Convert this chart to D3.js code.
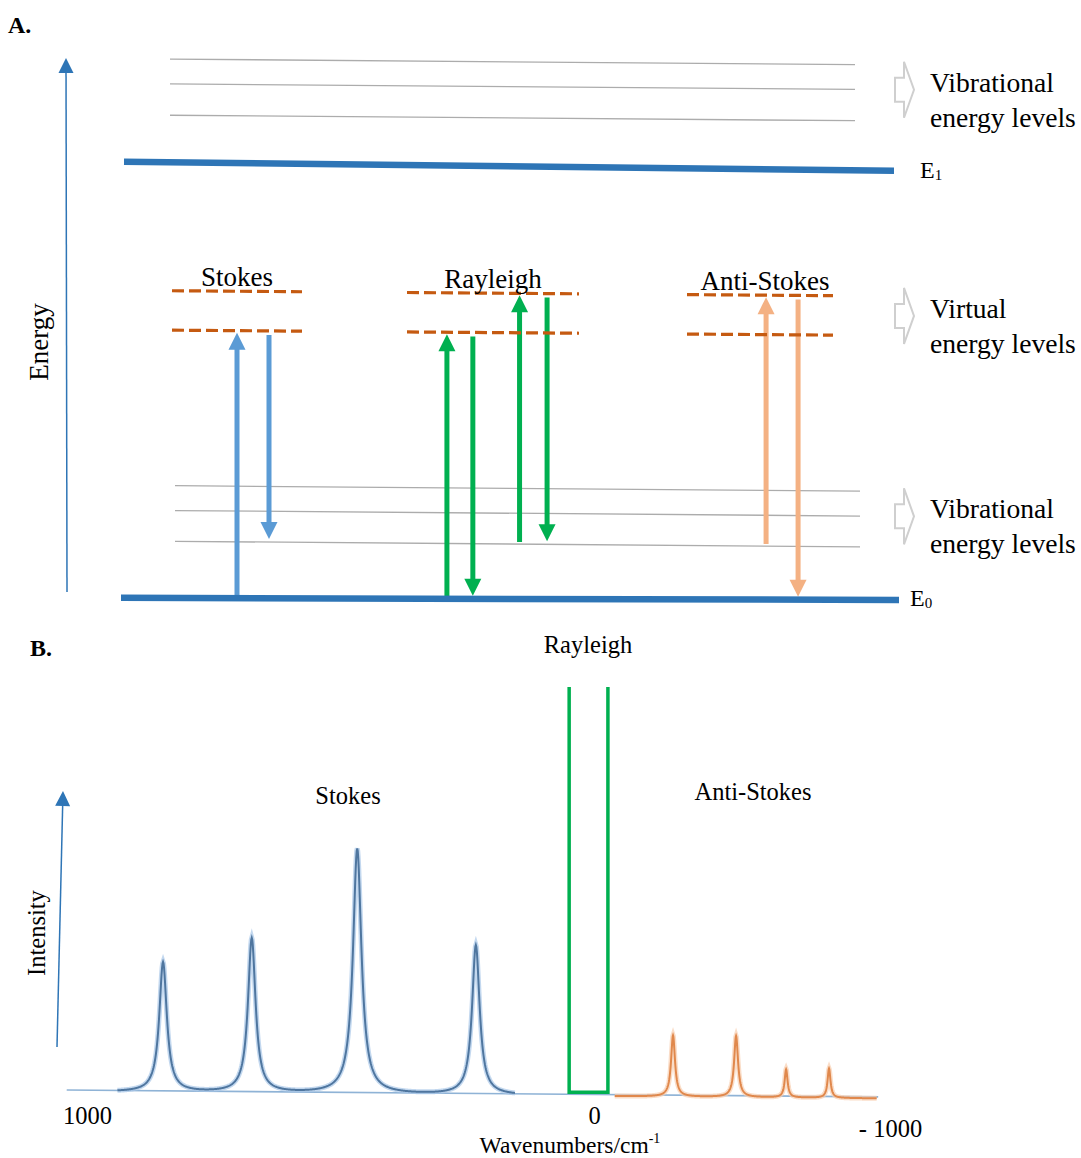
<!DOCTYPE html>
<html>
<head>
<meta charset="utf-8">
<script src="https://cdn.jsdelivr.net/npm/d3@7"></script>
<style>
  body { margin: 0; background: #fff; }
  svg { display: block; font-family: "Liberation Serif", "Times New Roman", serif; }
</style>
</head>
<body>
<svg id="chart" width="1081" height="1158"></svg>
<script>
// ---- panel A : energy level diagram ----
const levelNames  = ["E0", "v1", "v2", "v3", "virtual1", "virtual2", "E1", "u1", "u2", "u3"];
const levelEnergy = [0, 10.5, 16.2, 20.8, 49.6, 56.9, 80.7, 89.4, 95.2, 99.8];
const levelKind   = ["electronic", "vibrational", "vibrational", "vibrational", "virtual", "virtual",
                     "electronic", "vibrational", "vibrational", "vibrational"];

const groups = ["Stokes", "Rayleigh", "Anti-Stokes"];

// transitions (one arrow each)
const arrowGroup = ["Stokes", "Stokes", "Rayleigh", "Rayleigh", "Rayleigh", "Rayleigh", "Anti-Stokes", "Anti-Stokes"];
const arrowLane  = [0, 1, -1.44, -0.63, 0.83, 1.69, 0.19, 1.19];
const arrowFrom  = ["E0", "virtual1", "E0", "virtual1", "v1", "virtual2", "v1", "virtual2"];
const arrowTo    = ["virtual1", "v1", "virtual1", "E0", "virtual2", "v1", "virtual2", "E0"];

const sideLabels = [["Vibrational", "energy levels"], ["Virtual", "energy levels"], ["Vibrational", "energy levels"]];
const sideAnchor = [["u2"], ["virtual1", "virtual2"], ["v2"]];

// ---- panel B : spectrum ----
const stokesShift     = [850, 675, 467, 233];
const stokesIntensity = [0.53, 0.63, 1.0, 0.61];
const stokesWidth     = [9, 9, 10, 9];
const antiShift       = [-267, -480, -649, -794];
const antiIntensity   = [0.25, 0.25, 0.115, 0.12];
const antiWidth       = [8, 8, 6, 6];
const rayleighBand    = [49, -47];
const rayleighIntensity = 1.645;
const xTicks      = [1000, 0, -1000];
const xTickLabels = ["1000", "0", "- 1000"];

const svg = d3.select("#chart");

// arrow helper: straight shaft + triangular head
function arrow(g, x1, y1, x2, y2, color, shaft, headLen, headHalf) {
  const dx = x2 - x1, dy = y2 - y1, len = Math.hypot(dx, dy);
  const ux = dx / len, uy = dy / len;
  const bx = x2 - ux * headLen, by = y2 - uy * headLen;
  g.append("line")
    .attr("x1", x1).attr("y1", y1)
    .attr("x2", bx + ux).attr("y2", by + uy)
    .attr("stroke", color).attr("stroke-width", shaft);
  g.append("path")
    .attr("d", `M${x2},${y2}L${bx - uy * headHalf},${by + ux * headHalf}L${bx + uy * headHalf},${by - ux * headHalf}Z`)
    .attr("fill", color);
}

// ===================== A =====================
const yE = d3.scaleLinear().domain([0, 100]).range([598, 58]);
const groupX = d3.scaleOrdinal().domain(groups).range([237, 493, 760]);
const groupHalf = d3.scaleOrdinal().domain(groups).range([65, 86, 73]);
const laneX = d3.scaleLinear().domain([0, 1]).range([0, 32]);
const groupColor = d3.scaleOrdinal().domain(groups).range(["#5B9BD5", "#00B050", "#F4B183"]);

// levels are drawn slightly tilted, like the original sketch
const slope = { E0: 0.0026, E1: 0.0117, vibrational: 0.008, virtual: 0.0075 };
const span = { E0: [121, 899], E1: [124, 894], u: [170, 855], v: [175, 860] };

function levelIdx(name) { return levelNames.indexOf(name); }
function levelY(name, x) {
  const i = levelIdx(name);
  const key = levelKind[i] === "electronic" ? name : levelKind[i];
  return yE(levelEnergy[i]) + slope[key] * (x - 170);
}
function levelSpan(name) { return levelKind[levelIdx(name)] === "electronic" ? span[name] : span[name[0]]; }

svg.append("text").attr("x", 8).attr("y", 33)
  .attr("font-size", 24).attr("font-weight", "bold").text("A.");

// energy axis
const gAxisA = svg.append("g");
arrow(gAxisA, 67, yE(0) - 6, 66, yE(100), "#2E75B6", 1.5, 15, 7.5);
svg.append("text").attr("transform", "translate(48,342) rotate(-90)")
  .attr("text-anchor", "middle").attr("font-size", 27).text("Energy");

// vibrational levels
const vibLevels = levelNames.filter((n, i) => levelKind[i] === "vibrational");
svg.append("g").selectAll("line").data(vibLevels).join("line")
  .attr("x1", d => levelSpan(d)[0]).attr("y1", d => levelY(d, levelSpan(d)[0]))
  .attr("x2", d => levelSpan(d)[1]).attr("y2", d => levelY(d, levelSpan(d)[1]))
  .attr("stroke", "#acacac").attr("stroke-width", 1.3);

// transition arrows
const transitions = arrowGroup.map((g, i) => ({ group: g, lane: arrowLane[i], from: arrowFrom[i], to: arrowTo[i] }));
const gArrows = svg.append("g");
transitions.forEach(t => {
  const x = groupX(t.group) + laneX(t.lane);
  const up = levelEnergy[levelIdx(t.to)] > levelEnergy[levelIdx(t.from)];
  const y1 = up ? levelY(t.from, x) - 2 : levelY(t.from, x) + 4;
  const y2 = up ? levelY(t.to, x) + 2 : levelY(t.to, x) - 3;
  arrow(gArrows, x, y1, x, y2, groupColor(t.group), 5, 17, 8.5);
});

// virtual levels (dashed, one pair per scattering type)
const virtualLevels = levelNames.filter((n, i) => levelKind[i] === "virtual");
const virtualSegs = d3.cross(groups, virtualLevels, (g, v) => ({ group: g, level: v }));
svg.append("g").selectAll("line").data(virtualSegs).join("line")
  .attr("x1", d => groupX(d.group) - groupHalf(d.group))
  .attr("y1", d => levelY(d.level, groupX(d.group) - groupHalf(d.group)))
  .attr("x2", d => groupX(d.group) + groupHalf(d.group))
  .attr("y2", d => levelY(d.level, groupX(d.group) + groupHalf(d.group)))
  .attr("stroke", "#C55A11").attr("stroke-width", 3.2)
  .attr("stroke-dasharray", "12,5");

svg.append("g").selectAll("text").data(groups).join("text")
  .attr("x", d => groupX(d) + (d === "Anti-Stokes" ? 5 : 0))
  .attr("y", d => levelY("virtual2", groupX(d)) - 5)
  .attr("text-anchor", "middle").attr("font-size", 27)
  .text(d => d);

// electronic levels
const elecLevels = levelNames.filter((n, i) => levelKind[i] === "electronic");
svg.append("g").selectAll("line").data(elecLevels).join("line")
  .attr("x1", d => levelSpan(d)[0]).attr("y1", d => levelY(d, levelSpan(d)[0]))
  .attr("x2", d => levelSpan(d)[1]).attr("y2", d => levelY(d, levelSpan(d)[1]))
  .attr("stroke", "#2E75B6").attr("stroke-width", 6.5);

const eLab = svg.append("g").selectAll("text").data(elecLevels).join("text")
  .attr("x", d => levelSpan(d)[1] + (d === "E1" ? 26 : 11))
  .attr("y", d => levelY(d, levelSpan(d)[1]) + (d === "E1" ? 7 : 6))
  .attr("font-size", 24);
eLab.append("tspan").text("E");
eLab.append("tspan").attr("font-size", 15).attr("dy", 2).text(d => d.slice(1));

// side notes with hollow block arrows
sideLabels.forEach((lines, i) => {
  const cy = d3.mean(sideAnchor[i], n => levelY(n, 900));
  const x0 = 895;
  svg.append("path")
    .attr("d", `M${x0},${cy - 12}H${x0 + 9}V${cy - 28}L${x0 + 19},${cy}L${x0 + 9},${cy + 28}V${cy + 12}H${x0}Z`)
    .attr("fill", "#fff").attr("stroke", "#cfcfcf").attr("stroke-width", 2);
  svg.append("g").selectAll("text").data(lines).join("text")
    .attr("x", 930).attr("y", (d, j) => cy + 2 + j * 35)
    .attr("font-size", 27.6).text(d => d);
});

// ===================== B =====================
const xB = d3.scaleLinear().domain([1000, 0, -1000]).range([87, 594, 890]);
const yB = d3.scaleLinear().domain([0, 1]).range([1090, 845]);
const tiltB = 0.0085;
const baseY = x => tiltB * (x - 67);

svg.append("text").attr("x", 30).attr("y", 656)
  .attr("font-size", 24).attr("font-weight", "bold").text("B.");

// intensity axis
arrow(svg.append("g"), 57, 1047, 63, 791, "#2E75B6", 1.5, 15, 7.5);
svg.append("text").attr("transform", "translate(45,933) rotate(-90)")
  .attr("text-anchor", "middle").attr("font-size", 24.5).text("Intensity");

// baseline
svg.append("line")
  .attr("x1", xB(1040)).attr("y1", yB(0) + baseY(xB(1040)))
  .attr("x2", xB(-960)).attr("y2", yB(0) + baseY(xB(-960)))
  .attr("stroke", "#8fb3d6").attr("stroke-width", 1.6);

function lorentz(shifts, heights, widths, w) {
  return d3.sum(shifts, (s, i) => heights[i] / (1 + ((w - s) / widths[i]) ** 2));
}

const lineB = d3.line().x(d => xB(d[0])).y(d => yB(d[1]) + baseY(xB(d[0])) + 1.5);

const stokesPts = d3.range(940, 155, -1).map(w => [w, lorentz(stokesShift, stokesIntensity, stokesWidth, w)]);
const antiPts = d3.range(-70, -956, -1).map(w => [w, lorentz(antiShift, antiIntensity, antiWidth, w)]);

const gSpec = svg.append("g").attr("fill", "none");
gSpec.append("path").datum(stokesPts).attr("d", lineB)
  .attr("stroke", "#a9c8e8").attr("stroke-width", 5).attr("opacity", 0.7);
gSpec.append("path").datum(stokesPts).attr("d", lineB)
  .attr("stroke", "#4f769f").attr("stroke-width", 2);
gSpec.append("path").datum(antiPts).attr("d", lineB)
  .attr("stroke", "#f8cfb0").attr("stroke-width", 5).attr("opacity", 0.7);
gSpec.append("path").datum(antiPts).attr("d", lineB)
  .attr("stroke", "#e0884c").attr("stroke-width", 2);

// Rayleigh line (open box, clipped at the top)
const rx0 = xB(rayleighBand[0]), rx1 = xB(rayleighBand[1]);
gSpec.append("path")
  .attr("d", `M${rx0},${yB(rayleighIntensity)}V${yB(0) + baseY(rx0) - 2}H${rx1}V${yB(rayleighIntensity)}`)
  .attr("stroke", "#00B050").attr("stroke-width", 3.5);

// peak group labels
svg.append("text").attr("x", 588).attr("y", 653).attr("text-anchor", "middle").attr("font-size", 24.5).text("Rayleigh");
svg.append("text").attr("x", 348).attr("y", 804).attr("text-anchor", "middle").attr("font-size", 24.5).text("Stokes");
svg.append("text").attr("x", 753).attr("y", 800).attr("text-anchor", "middle").attr("font-size", 24.5).text("Anti-Stokes");

// x axis labels
const axisB = svg.append("g").attr("transform", "translate(0,1107)")
  .call(d3.axisBottom(xB).tickValues(xTicks).tickFormat((d, i) => xTickLabels[i]).tickSize(0).tickPadding(0));
axisB.select(".domain").remove();
axisB.selectAll("text")
  .attr("font-family", "Liberation Serif, Times New Roman, serif")
  .attr("font-size", 24.5).attr("fill", "#000")
  .attr("y", d => d < 0 ? 13 : 0);

const xTitle = svg.append("text").attr("x", 570).attr("y", 1152.5)
  .attr("text-anchor", "middle").attr("font-size", 23.5);
xTitle.append("tspan").text("Wavenumbers/cm");
xTitle.append("tspan").attr("font-size", 14).attr("dy", -10).text("-1");
</script>
</body>
</html>
